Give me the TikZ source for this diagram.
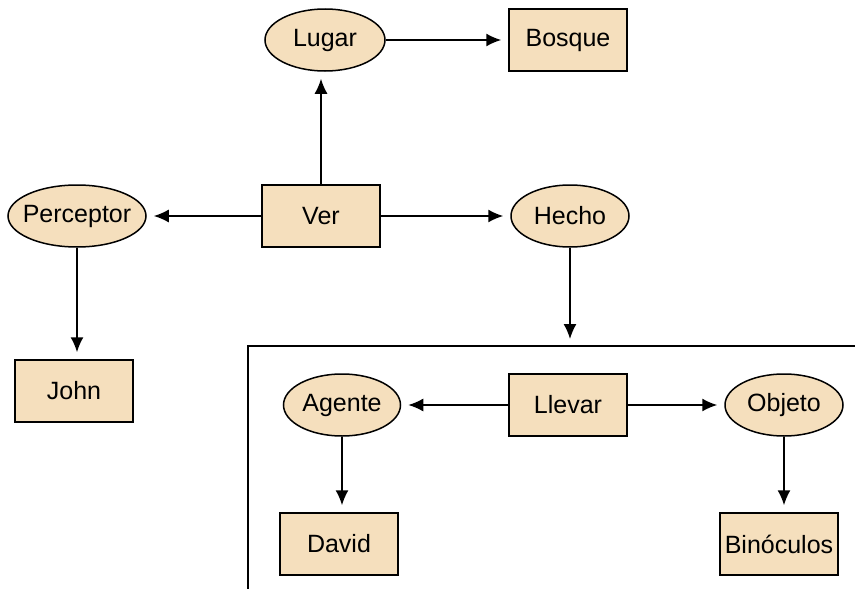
\documentclass[tikz,border=0pt]{standalone}
\usepackage{fontspec}
\setmainfont{Liberation Sans}
\usetikzlibrary{shapes.geometric,arrows.meta}
\definecolor{tan}{RGB}{245,223,189}
\begin{document}
\begin{tikzpicture}[x=1pt,y=-1pt,
  base/.style={draw=black,line width=1.5pt,fill=tan,font=\fontsize{25}{27}\selectfont,inner sep=0pt},
  rbox/.style={base,rectangle,minimum width=118pt,minimum height=62pt},
  ell/.style={base,ellipse,minimum height=62pt,inner xsep=-25pt},
  conn/.style={line width=1.5pt,-{Latex[length=15pt,width=13pt]},shorten >=7pt}]
\useasboundingbox (0,0) rectangle (855,589);
\node[ell,minimum width=120pt] (lugar) at (325,40) {Lugar};
\node[rbox] (bosque) at (568,40) {Bosque};
\node[rbox] (ver) at (321,216) {Ver};
\node[ell,minimum width=138pt] (perc) at (77,216) {Perceptor};
\node[ell,minimum width=118pt] (hecho) at (570,216) {Hecho};
\node[rbox] (john) at (74,391) {John};
\node[ell,minimum width=117pt] (agente) at (342,405) {Agente};
\node[rbox] (llevar) at (568,405) {Llevar};
\node[ell,minimum width=118pt] (objeto) at (784,405) {Objeto};
\node[rbox] (david) at (339,544) {David};
\node[rbox] (bino) at (779,544) {Binóculos};
\coordinate (brk) at (569,346);
\draw[line width=1.5pt] (248,589) -- (248,346) -- (855,346);
\draw[conn] (ver.north) -- (ver.north |- lugar.south);
\draw[conn] (lugar.east) -- (bosque.west);
\draw[conn] (ver.west) -- (perc.east);
\draw[conn] (ver.east) -- (hecho.west);
\draw[conn] (perc.south) -- (perc.south |- john.north);
\draw[conn] (hecho.south) -- (hecho.south |- brk);
\draw[conn] (llevar.west) -- (agente.east);
\draw[conn] (llevar.east) -- (objeto.west);
\draw[conn] (agente.south) -- (agente.south |- david.north);
\draw[conn] (objeto.south) -- (objeto.south |- bino.north);
\end{tikzpicture}
\end{document}
